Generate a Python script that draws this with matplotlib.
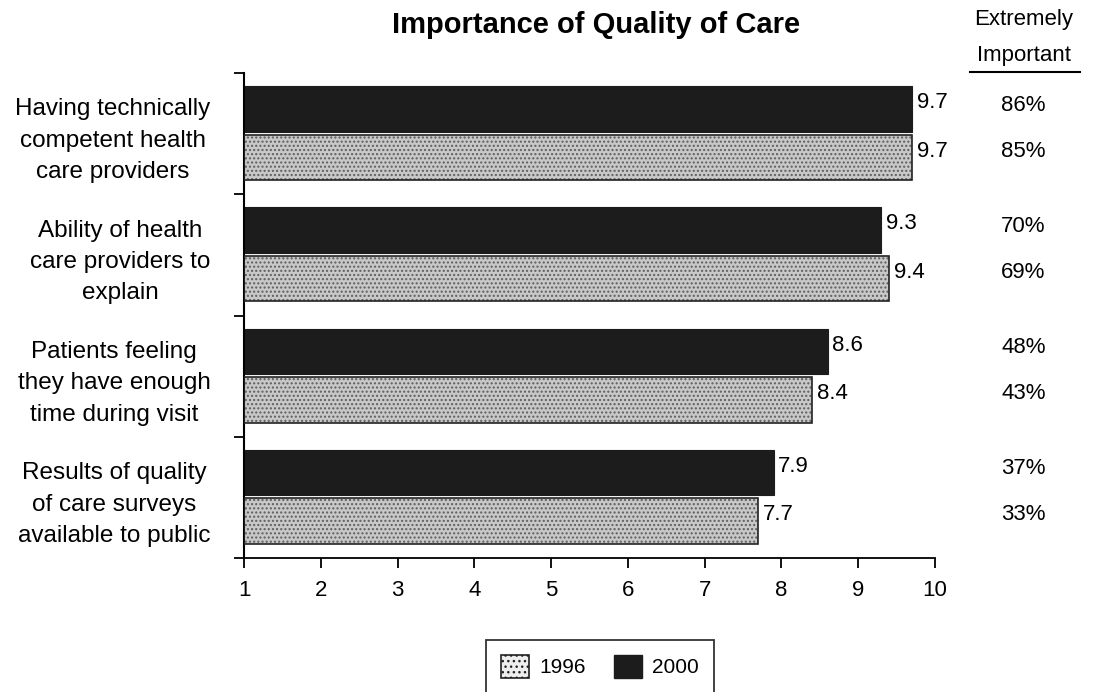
import matplotlib
matplotlib.use("Agg")
import matplotlib.pyplot as plt
from matplotlib.patches import Patch
from matplotlib.lines import Line2D
import numpy as np

plt.rcParams['font.family'] = ['Liberation Sans', 'DejaVu Sans']

categories = [
    "Having technically\ncompetent health\ncare providers",
    "Ability of health\ncare providers to\nexplain",
    "Patients feeling\nthey have enough\ntime during visit",
    "Results of quality\nof care surveys\navailable to public",
]
vals_2000 = [9.7, 9.3, 8.6, 7.9]
vals_1996 = [9.7, 9.4, 8.4, 7.7]
pct_2000 = ["86%", "70%", "48%", "37%"]
pct_1996 = ["85%", "69%", "43%", "33%"]
x_ticks = [1, 2, 3, 4, 5, 6, 7, 8, 9, 10]

W, H = 1097, 692
fig = plt.figure(figsize=(W / 100, H / 100), dpi=100)
ax = fig.add_axes([244 / W, 1 - 558 / H, (935 - 244) / W, (558 - 73) / H])

base = 1
y = np.arange(len(categories))
bh = 0.375
y_dark = y - 0.205
y_light = y + 0.195

w2000 = np.array(vals_2000) - base
w1996 = np.array(vals_1996) - base

ax.barh(y_dark, w2000, left=base, height=bh, color='#1c1c1c', edgecolor='#1c1c1c', linewidth=0.8, zorder=2)
ax.barh(y_light, w1996, left=base, height=bh, color='#c8c8c8', edgecolor='#5e5e5e', hatch='....', linewidth=0, zorder=2)
ax.barh(y_light, w1996, left=base, height=bh, fill=False, edgecolor='#222222', linewidth=1.2, zorder=3)

for yi, v in zip(y_dark, vals_2000):
    ax.text(v + 0.06, yi - 0.05, f"{v:.1f}", va='center', ha='left', fontsize=16)
for yi, v in zip(y_light, vals_1996):
    ax.text(v + 0.06, yi - 0.05, f"{v:.1f}", va='center', ha='left', fontsize=16)

for yi, p in zip(y_dark, pct_2000):
    ax.text(11.15, yi - 0.03, p, va='center', ha='center', fontsize=16, clip_on=False)
for yi, p in zip(y_light, pct_1996):
    ax.text(11.15, yi - 0.05, p, va='center', ha='center', fontsize=16, clip_on=False)

ax.set_xlim(1, 10)
ax.set_ylim(3.5, -0.5)
ax.set_xticks(x_ticks)
ax.set_xticklabels([str(t) for t in x_ticks], fontsize=16)
ax.tick_params(axis='x', direction='out', length=7, width=1.3, pad=9)

ax.set_yticks(y)
ax.set_yticklabels(categories, fontsize=17.5, linespacing=1.55)
for lab in ax.get_yticklabels():
    lab.set_multialignment('center')
ax.tick_params(axis='y', which='major', length=0, pad=24)
ax.set_yticks(np.arange(-0.5, len(categories), 1.0), minor=True)
ax.tick_params(axis='y', which='minor', direction='out', length=7, width=1.3)

for s in ['top', 'right']:
    ax.spines[s].set_visible(False)
ax.spines['left'].set_linewidth(1.5)
ax.spines['bottom'].set_linewidth(1.3)

fig.text(596 / W, 1 - 25 / H, "Importance of Quality of Care", ha='center', va='center',
         fontsize=21, fontweight='bold')
fig.text(1024 / W, 1 - 20 / H, "Extremely", ha='center', va='center', fontsize=16)
fig.text(1024 / W, 1 - 55 / H, "Important", ha='center', va='center', fontsize=16)
fig.add_artist(Line2D([970 / W, 1080 / W], [1 - 72 / H, 1 - 72 / H], color='black', linewidth=1.5))

handles = [
    Patch(facecolor='#eeeeee', edgecolor='#222222', hatch='...', linewidth=1.2, label='1996'),
    Patch(facecolor='#1c1c1c', edgecolor='#1c1c1c', label='2000'),
]
leg = fig.legend(handles=handles, loc='upper center', bbox_to_anchor=(600 / W, 1 - 640 / H),
                 ncol=2, frameon=True, fancybox=False, fontsize=15, handlelength=1.35,
                 handleheight=1.35, columnspacing=1.35, handletextpad=0.5, borderpad=0.7,
                 borderaxespad=0)
leg.get_frame().set_edgecolor('black')
leg.get_frame().set_linewidth(1.3)

fig.savefig("out.png", dpi=100)
